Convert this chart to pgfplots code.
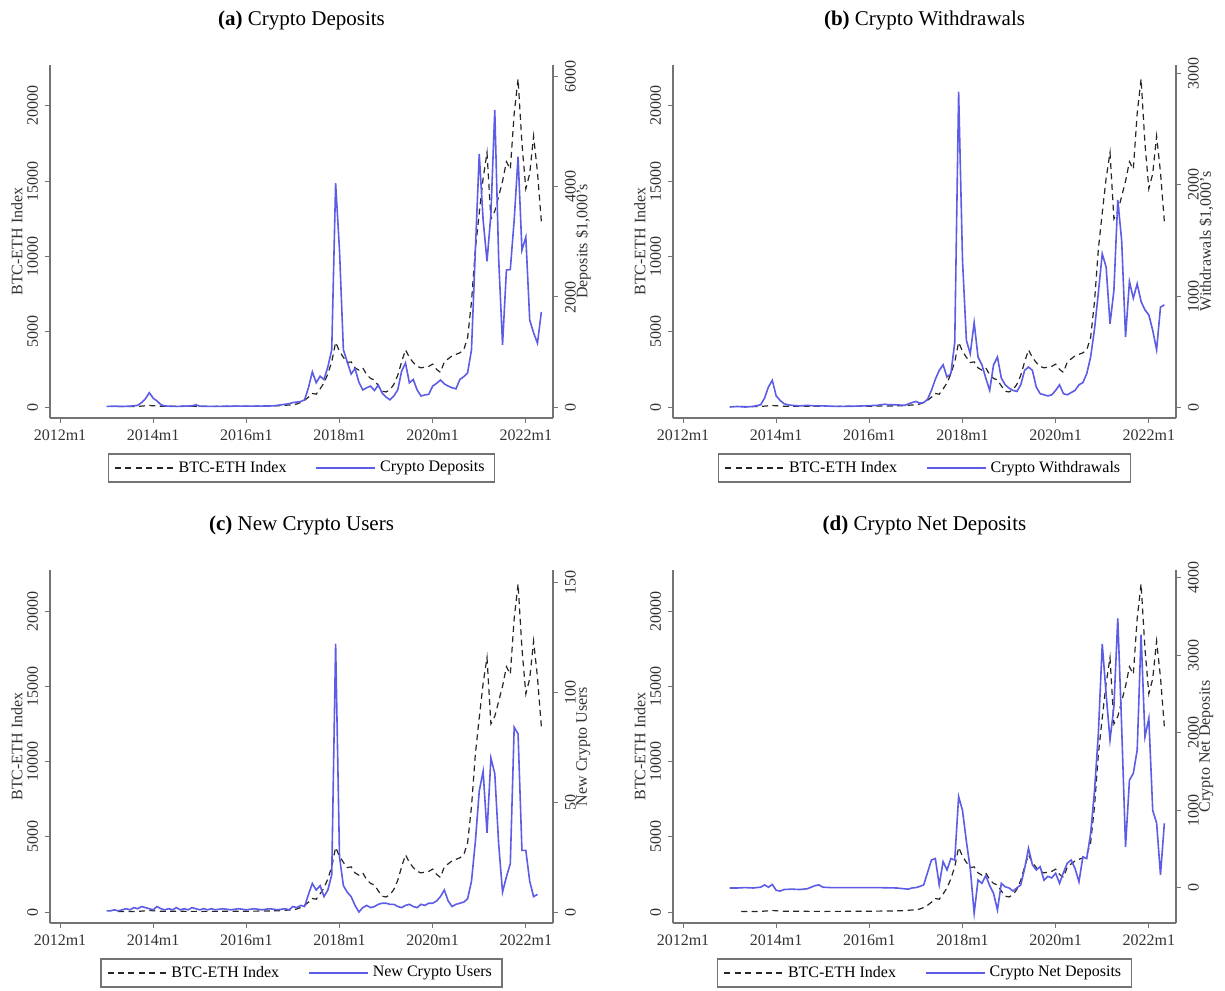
\documentclass[border=0pt]{standalone}
\usepackage{fontspec}
\setmainfont{Liberation Serif}
\usepackage{pgfplots}
\pgfplotsset{compat=1.18}
\usepackage{pgfplotstable}

\definecolor{cblue}{RGB}{92,92,230}
\definecolor{axgray}{RGB}{115,115,115}

% month index m: 0 = 2012m1
\pgfplotstableread{
m v
15 30
20 40
23 100
26 50
36 40
48 50
56 80
60 150
61 200
62 300
63 450
64 650
65 900
66 850
67 1200
68 1600
69 2200
70 3000
71 4300
72 3700
73 3300
74 2950
75 3000
76 2600
77 2450
78 2600
79 2150
80 1900
81 1800
82 1400
83 1050
84 1000
85 1150
86 1500
87 2100
88 3000
89 3800
90 3300
91 2950
92 2700
93 2600
94 2650
95 2700
96 2850
97 2500
98 2300
99 3000
100 3200
101 3400
102 3500
103 3600
104 3800
105 4600
106 7000
107 10500
108 12900
109 15200
110 16900
111 12500
112 13000
113 14000
114 15000
115 16300
116 15800
117 19500
118 21800
119 17500
120 14500
121 15500
122 18000
123 15600
124 12300
}\btceth

\pgfplotstableread{
m v
12 10
14 15
16 10
18 15
20 30
21 80
22 150
23 260
24 160
25 110
26 40
27 20
28 15
30 10
32 15
34 20
35 40
36 15
40 10
45 15
50 15
55 20
57 40
58 50
59 60
60 80
61 90
62 100
63 130
64 350
65 640
66 440
67 560
68 500
69 730
70 1040
71 4070
72 2850
73 1040
74 820
75 600
76 700
77 450
78 310
79 350
80 380
81 300
82 400
83 250
84 180
85 130
86 200
87 310
88 650
89 800
90 440
91 500
92 310
93 200
94 220
95 230
96 380
97 430
98 490
99 420
100 380
101 350
102 330
103 500
104 550
105 620
106 1040
107 2850
108 4600
109 3400
110 2650
111 3500
112 5400
113 2700
114 1130
115 2490
116 2500
117 3400
118 4550
119 2850
120 3090
121 1580
122 1350
123 1160
124 1730
}\deposits

\pgfplotstableread{
m v
12 0
14 5
16 0
18 5
20 20
21 80
22 180
23 240
24 100
25 60
26 30
27 20
28 15
30 10
32 15
34 10
36 10
40 5
45 8
50 15
52 25
53 20
55 20
57 15
59 40
60 50
61 35
62 40
63 70
64 150
65 250
66 330
67 380
68 270
69 300
70 580
71 2840
72 1320
73 600
74 480
75 760
76 450
77 380
78 260
79 150
80 380
81 450
82 260
83 200
84 170
85 150
86 140
87 200
88 330
89 360
90 330
91 180
92 120
93 110
94 100
95 110
96 150
97 200
98 120
99 110
100 130
101 150
102 200
103 220
104 300
105 450
106 700
107 1030
108 1380
109 1260
110 750
111 1050
112 1865
113 1500
114 630
115 1130
116 980
117 1110
118 950
119 875
120 830
121 690
122 515
123 900
124 920
}\withdrawals

\pgfplotstableread{
m v
12 0.5
13 0.5
14 1
15 0.5
16 1
17 1.5
18 1
19 2
20 1.5
21 2.5
22 2
23 1.5
24 1
25 2.5
26 1.5
27 1
28 1.5
29 1
30 2
31 1
32 1.5
33 1
34 2
35 1.5
36 1
37 1.5
38 1
39 1.5
40 1
42 1.5
44 1
46 1.5
48 1
50 1.5
52 1
54 1.5
56 1
58 1.5
59 1
60 2.5
61 2
62 3
63 2.5
64 8
65 13
66 10
67 12
68 7
69 10
70 17
71 122
72 25
73 12
74 9
75 7
76 3
77 0
78 2
79 3
80 2
81 2.5
82 3.5
83 4
84 4
85 3.5
86 3.5
87 2.5
88 2
89 3
90 3.5
91 2.5
92 2
93 3.5
94 3
95 4
96 4
97 5
98 7
99 10
100 5
101 2.5
102 3.5
103 4
104 4.5
105 6
106 14
107 32
108 55
109 64
110 36
111 70
112 63
113 31
114 9
115 16
116 22
117 84
118 81
119 28
120 28
121 14
122 7
123 8
}\newusers

\pgfplotstableread{
m v
12 0
14 0
16 5
18 0
20 10
21 40
22 10
23 45
24 -30
25 -40
26 -20
28 -15
30 -20
32 -10
34 30
35 40
36 10
38 5
40 5
45 5
50 5
55 0
57 -10
58 -15
59 0
60 5
61 20
62 40
63 200
64 361
65 380
66 39
67 340
68 232
69 380
70 360
71 1180
72 1000
73 600
74 250
75 -327
76 103
77 60
78 160
79 30
80 -70
81 -284
82 60
83 15
84 0
85 -40
86 0
87 40
88 250
89 512
90 300
91 232
92 275
93 100
94 150
95 130
96 190
97 60
98 200
99 320
100 360
101 250
102 80
103 400
104 380
105 700
106 1250
107 2000
108 3150
109 2500
110 1910
111 2340
112 3480
113 2080
114 530
115 1390
116 1480
117 1780
118 3270
119 1950
120 2190
121 1000
122 840
123 170
124 835
}\netdeposits

\pgfplotsset{
  base/.style={
    scale only axis, width=251.5pt, height=176.5pt,
    xmin=-2.58, xmax=127,
    tick align=outside, major tick length=2.5pt,
    tick style={axgray, line width=0.5pt},
    axis line style={axgray, line width=0.6pt},
    tick label style={font=\fontsize{8}{9}\selectfont, text=black!80},
    /pgf/number format/assume math mode=true,
    /pgf/number format/1000 sep={},
    scaled y ticks=false,
  },
  leftax/.style={base,
    axis x line*=bottom, axis y line*=left,
    xtick={0,24,48,72,96,120},
    xticklabels={2012m1,2014m1,2016m1,2018m1,2020m1,2022m1},
    ymin=-731, ymax=22724,
    ytick={0,5000,10000,15000,20000},
    yticklabel style={rotate=90, anchor=south},
    ylabel={BTC-ETH Index},
    every axis y label/.style={at={(axis description cs:-0.066,0.5)}, rotate=90,
      anchor=center, font=\fontsize{8}{9}\selectfont, text=black!80},
    every axis title shift=0pt,
    title style={at={(0.5,1)}, anchor=center, yshift=22.5pt, font=\fontsize{10.5}{12}\selectfont},
  },
  rightax/.style={base,
    hide x axis, axis y line*=right,
    yticklabel style={rotate=90, anchor=north},
    every axis y label/.style={at={(axis description cs:1.06,0.5)}, rotate=90,
      anchor=center, font=\fontsize{8}{9}\selectfont, text=black!80},
    legend style={at={(0.5,-0.1)}, anchor=north, legend columns=2,
      draw=axgray, line width=0.6pt, font=\fontsize{8}{9}\selectfont,
      inner xsep=3pt, inner ysep=1.5pt,
      /tikz/every even column/.append style={column sep=12.5pt}},
    legend image code/.code={\draw[#1] (0pt,0pt) -- (29.5pt,0pt);},
  },
  idx/.style={black!85, line width=0.6pt, dash pattern=on 3pt off 2.2pt},
  ser/.style={cblue, line width=0.8pt},
}

\begin{document}
\begin{tikzpicture}
\path[use as bounding box] (0,0) rectangle (612.5pt,-495pt);

%% (a)
\begin{axis}[leftax, at={(25pt,-209pt)}, title={\textbf{(a)} Crypto Deposits}]
\addplot[idx] table[x=m,y=v]{\btceth};
\end{axis}
\begin{axis}[rightax, at={(25pt,-209pt)}, ymin=-200, ymax=6218,
  ytick={0,2000,4000,6000}, ylabel={Deposits \$1,000's}]
\addlegendimage{idx}
\addlegendentry{BTC-ETH Index}
\addplot[ser] table[x=m,y=v]{\deposits};
\addlegendentry{Crypto Deposits}
\end{axis}

%% (b)
\begin{axis}[leftax, at={(336.5pt,-209pt)}, title={\textbf{(b)} Crypto Withdrawals}]
\addplot[idx] table[x=m,y=v]{\btceth};
\end{axis}
\begin{axis}[rightax, at={(336.5pt,-209pt)}, ymin=-99, ymax=3081,
  ytick={0,1000,2000,3000}, ylabel={Withdrawals \$1,000's}]
\addlegendimage{idx}
\addlegendentry{BTC-ETH Index}
\addplot[ser] table[x=m,y=v]{\withdrawals};
\addlegendentry{Crypto Withdrawals}
\end{axis}

%% (c)
\begin{axis}[leftax, at={(25pt,-461.5pt)}, title={\textbf{(c)} New Crypto Users}]
\addplot[idx] table[x=m,y=v]{\btceth};
\end{axis}
\begin{axis}[rightax, at={(25pt,-461.5pt)}, ymin=-5, ymax=155.5,
  ytick={0,50,100,150}, ylabel={New Crypto Users}]
\addlegendimage{idx}
\addlegendentry{BTC-ETH Index}
\addplot[ser] table[x=m,y=v]{\newusers};
\addlegendentry{New Crypto Users}
\end{axis}

%% (d)
\begin{axis}[leftax, at={(336.5pt,-461.5pt)}, title={\textbf{(d)} Crypto Net Deposits}]
\addplot[idx] table[x=m,y=v]{\btceth};
\end{axis}
\begin{axis}[rightax, at={(336.5pt,-461.5pt)}, ymin=-452, ymax=4103,
  ytick={0,1000,2000,3000,4000}, ylabel={Crypto Net Deposits}]
\addlegendimage{idx}
\addlegendentry{BTC-ETH Index}
\addplot[ser] table[x=m,y=v]{\netdeposits};
\addlegendentry{Crypto Net Deposits}
\end{axis}

\end{tikzpicture}
\end{document}
